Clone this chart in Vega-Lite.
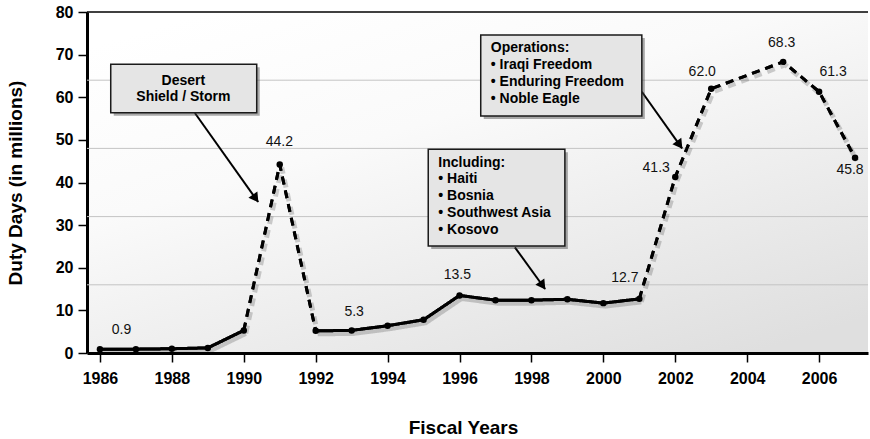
{
  "$schema": "https://vega.github.io/schema/vega-lite/v6.json",
  "width": 781,
  "height": 341,
  "autosize": "none",
  "padding": {"left": 87, "top": 12, "right": 2, "bottom": 86},
  "background": "white",
  "view": {
    "stroke": null,
    "fill": {
      "gradient": "linear",
      "x1": 0.15, "y1": 0, "x2": 0.85, "y2": 1,
      "stops": [
        {"offset": 0, "color": "#ffffff"},
        {"offset": 0.35, "color": "#fafafa"},
        {"offset": 1, "color": "#dfdfdf"}
      ]
    }
  },
  "config": {"font": "Liberation Sans"},
  "datasets": {
    "points": [
      {"year": 1986, "value": 0.9}, {"year": 1987, "value": 0.9}, {"year": 1988, "value": 1.0},
      {"year": 1989, "value": 1.2}, {"year": 1990, "value": 5.3}, {"year": 1991, "value": 44.2},
      {"year": 1992, "value": 5.2}, {"year": 1993, "value": 5.3}, {"year": 1994, "value": 6.4},
      {"year": 1995, "value": 7.8}, {"year": 1996, "value": 13.5}, {"year": 1997, "value": 12.4},
      {"year": 1998, "value": 12.4}, {"year": 1999, "value": 12.6}, {"year": 2000, "value": 11.7},
      {"year": 2001, "value": 12.7}, {"year": 2002, "value": 41.3}, {"year": 2003, "value": 62.0},
      {"year": 2005, "value": 68.3}, {"year": 2006, "value": 61.3}, {"year": 2007, "value": 45.8}
    ],
    "lines": [
      {"seg": "a", "style": "solid", "year": 1986, "value": 0.9},
      {"seg": "a", "style": "solid", "year": 1987, "value": 0.9},
      {"seg": "a", "style": "solid", "year": 1988, "value": 1.0},
      {"seg": "a", "style": "solid", "year": 1989, "value": 1.2},
      {"seg": "a", "style": "solid", "year": 1990, "value": 5.3},
      {"seg": "b", "style": "dashed", "year": 1990, "value": 5.3},
      {"seg": "b", "style": "dashed", "year": 1991, "value": 44.2},
      {"seg": "b", "style": "dashed", "year": 1992, "value": 5.2},
      {"seg": "c", "style": "solid", "year": 1992, "value": 5.2},
      {"seg": "c", "style": "solid", "year": 1993, "value": 5.3},
      {"seg": "c", "style": "solid", "year": 1994, "value": 6.4},
      {"seg": "c", "style": "solid", "year": 1995, "value": 7.8},
      {"seg": "c", "style": "solid", "year": 1996, "value": 13.5},
      {"seg": "c", "style": "solid", "year": 1997, "value": 12.4},
      {"seg": "c", "style": "solid", "year": 1998, "value": 12.4},
      {"seg": "c", "style": "solid", "year": 1999, "value": 12.6},
      {"seg": "c", "style": "solid", "year": 2000, "value": 11.7},
      {"seg": "c", "style": "solid", "year": 2001, "value": 12.7},
      {"seg": "d", "style": "dashed", "year": 2001, "value": 12.7},
      {"seg": "d", "style": "dashed", "year": 2002, "value": 41.3},
      {"seg": "d", "style": "dashed", "year": 2003, "value": 62.0},
      {"seg": "d", "style": "dashed", "year": 2005, "value": 68.3},
      {"seg": "d", "style": "dashed", "year": 2006, "value": 61.3},
      {"seg": "d", "style": "dashed", "year": 2007, "value": 45.8}
    ],
    "labels": [
      {"label": "0.9", "x": 1986.6, "y": 5.4},
      {"label": "44.2", "x": 1990.99, "y": 49.57},
      {"label": "5.3", "x": 1993.07, "y": 9.69},
      {"label": "13.5", "x": 1995.94, "y": 18.3},
      {"label": "12.7", "x": 2000.6, "y": 17.5},
      {"label": "41.3", "x": 2001.47, "y": 43.47},
      {"label": "62.0", "x": 2002.75, "y": 66.0},
      {"label": "68.3", "x": 2004.96, "y": 72.8},
      {"label": "61.3", "x": 2006.39, "y": 66.0},
      {"label": "45.8", "x": 2006.86, "y": 42.93}
    ],
    "boxes": [
      {"box": "desert", "x": 1986.3, "x2": 1990.36, "y": 67.73, "y2": 56.38},
      {"box": "including", "x": 1995.13, "x2": 1998.93, "y": 47.79, "y2": 25.1},
      {"box": "operations", "x": 1996.59, "x2": 2001.07, "y": 74.6, "y2": 55.6}
    ],
    "boxtext": [
      {"box": "desert", "text": "Desert", "x": 1988.32, "y": 63.88},
      {"box": "desert", "text": "Shield / Storm", "x": 1988.32, "y": 59.99},
      {"box": "including", "text": "Including:", "x": 1995.41, "y": 44.65},
      {"box": "including", "text": "• Haiti", "x": 1995.41, "y": 40.82},
      {"box": "including", "text": "• Bosnia", "x": 1995.41, "y": 36.9},
      {"box": "including", "text": "• Southwest Asia", "x": 1995.41, "y": 32.91},
      {"box": "including", "text": "• Kosovo", "x": 1995.41, "y": 28.86},
      {"box": "operations", "text": "Operations:", "x": 1996.87, "y": 71.48},
      {"box": "operations", "text": "• Iraqi Freedom", "x": 1996.87, "y": 67.57},
      {"box": "operations", "text": "• Enduring Freedom", "x": 1996.87, "y": 63.51},
      {"box": "operations", "text": "• Noble Eagle", "x": 1996.87, "y": 59.52}
    ],
    "arrows": [
      {"box": "desert", "x": 1988.64, "y": 56.3, "x2": 1990.4, "y2": 35.43},
      {"box": "including", "x": 1997.54, "y": 24.8, "x2": 1998.38, "y2": 15.01},
      {"box": "operations", "x": 2001.07, "y": 61.3, "x2": 2002.19, "y2": 48.02}
    ]
  },
  "layer": [
    {
      "data": {"name": "lines"},
      "mark": {"type": "line", "color": "#000000", "strokeWidth": 3},
      "encoding": {
        "x": {
          "field": "year", "type": "quantitative",
          "scale": {"domain": [1985.64, 2007.36], "nice": false, "zero": false},
          "axis": {
            "values": [1986, 1987, 1988, 1989, 1990, 1991, 1992, 1993, 1994, 1995, 1996, 1997, 1998, 1999, 2000, 2001, 2002, 2003, 2004, 2005, 2006, 2007],
            "labelExpr": "datum.value % 2 == 0 ? '' + datum.value : ''",
            "labelFont": "Liberation Sans", "labelFontSize": 16, "labelFontWeight": "bold", "labelColor": "#000000",
            "labelPadding": 8, "labelFlush": false, "labelOverlap": false,
            "tickColor": "#000000", "tickSize": 9, "tickWidth": 1.5,
            "domainColor": "#000000", "domainWidth": 3,
            "grid": false,
            "title": "Fiscal Years", "titleFontSize": 19, "titleFontWeight": "bold", "titleColor": "#000000",
            "titleX": 376, "titleY": 65, "titleBaseline": "top"
          }
        },
        "y": {
          "field": "value", "type": "quantitative",
          "scale": {"domain": [0, 80], "nice": false},
          "axis": {
            "values": [0, 10, 20, 30, 40, 50, 60, 70, 80],
            "labelFont": "Liberation Sans", "labelFontSize": 16, "labelFontWeight": "bold", "labelColor": "#000000",
            "labelPadding": 5, "labelFlush": false, "labelOverlap": false,
            "tickColor": "#000000", "tickSize": 9, "tickWidth": 1.5,
            "domainColor": "#000000", "domainWidth": 3,
            "grid": false,
            "title": "Duty Days (in millions)", "titleFontSize": 19, "titleFontWeight": "bold", "titleColor": "#000000",
            "titleX": -72, "titleY": 170.5, "titleBaseline": "middle", "titleAngle": -90
          }
        },
        "detail": {"field": "seg"},
        "strokeDash": {"field": "style", "type": "nominal", "scale": {"domain": ["solid", "dashed"], "range": [[1, 0], [8, 6]]}, "legend": null}
      }
    },
    {
      "data": {"values": [{"g": 16}, {"g": 32}, {"g": 48}, {"g": 64}]},
      "mark": {"type": "rule", "color": "#c4c4c4", "strokeWidth": 1},
      "encoding": {
        "y": {"field": "g", "type": "quantitative"}
      }
    },
    {
      "data": {"name": "lines"},
      "mark": {"type": "line", "color": "#000000", "opacity": 0.18, "strokeWidth": 5, "xOffset": 2, "yOffset": 3},
      "encoding": {
        "x": {"field": "year", "type": "quantitative"},
        "y": {"field": "value", "type": "quantitative"},
        "detail": {"field": "seg"},
        "strokeDash": {"field": "style", "type": "nominal", "legend": null}
      }
    },
    {
      "data": {"name": "lines"},
      "mark": {"type": "line", "color": "#000000", "strokeWidth": 3},
      "encoding": {
        "x": {"field": "year", "type": "quantitative"},
        "y": {"field": "value", "type": "quantitative"},
        "detail": {"field": "seg"},
        "strokeDash": {"field": "style", "type": "nominal", "legend": null}
      }
    },
    {
      "data": {"values": [{"t": 1}]},
      "mark": {"type": "rule", "color": "#000000", "strokeWidth": 1.5},
      "encoding": {
        "y": {"datum": 80, "type": "quantitative"}
      }
    },
    {
      "data": {"name": "points"},
      "mark": {"type": "circle", "color": "#000000", "opacity": 1, "size": 42},
      "encoding": {
        "x": {"field": "year", "type": "quantitative"},
        "y": {"field": "value", "type": "quantitative"}
      }
    },
    {
      "data": {"name": "labels"},
      "mark": {"type": "text", "fontSize": 14, "color": "#111111", "align": "center", "baseline": "middle"},
      "encoding": {
        "x": {"field": "x", "type": "quantitative"},
        "y": {"field": "y", "type": "quantitative"},
        "text": {"field": "label"}
      }
    },
    {
      "data": {"name": "arrows"},
      "mark": {"type": "rule", "color": "#000000", "strokeWidth": 2},
      "encoding": {
        "x": {"field": "x", "type": "quantitative"},
        "y": {"field": "y", "type": "quantitative"},
        "x2": {"field": "x2"},
        "y2": {"field": "y2"}
      }
    },
    {
      "data": {"name": "arrows"},
      "mark": {"type": "point", "shape": "triangle-down", "filled": true, "color": "#000000", "opacity": 1, "size": 120, "angle": -35.5, "xOffset": -2.5, "yOffset": -3.5},
      "encoding": {
        "x": {"field": "x2", "type": "quantitative"},
        "y": {"field": "y2", "type": "quantitative"}
      }
    },
    {
      "data": {"name": "boxes"},
      "mark": {"type": "rect", "color": "#444444", "opacity": 0.45, "xOffset": 3, "x2Offset": 3, "yOffset": 3, "y2Offset": 3},
      "encoding": {
        "x": {"field": "x", "type": "quantitative"},
        "x2": {"field": "x2"},
        "y": {"field": "y", "type": "quantitative"},
        "y2": {"field": "y2"}
      }
    },
    {
      "data": {"name": "boxes"},
      "mark": {"type": "rect", "fill": "#e5e5e5", "stroke": "#1a1a1a", "strokeWidth": 1.5, "opacity": 1},
      "encoding": {
        "x": {"field": "x", "type": "quantitative"},
        "x2": {"field": "x2"},
        "y": {"field": "y", "type": "quantitative"},
        "y2": {"field": "y2"}
      }
    },
    {
      "data": {"name": "boxtext"},
      "transform": [{"filter": "datum.box == 'desert'"}],
      "mark": {"type": "text", "fontSize": 14, "fontWeight": "bold", "color": "#000000", "align": "center", "baseline": "middle"},
      "encoding": {
        "x": {"field": "x", "type": "quantitative"},
        "y": {"field": "y", "type": "quantitative"},
        "text": {"field": "text"}
      }
    },
    {
      "data": {"name": "boxtext"},
      "transform": [{"filter": "datum.box != 'desert'"}],
      "mark": {"type": "text", "fontSize": 14, "fontWeight": "bold", "color": "#000000", "align": "left", "baseline": "middle"},
      "encoding": {
        "x": {"field": "x", "type": "quantitative"},
        "y": {"field": "y", "type": "quantitative"},
        "text": {"field": "text"}
      }
    }
  ]
}
